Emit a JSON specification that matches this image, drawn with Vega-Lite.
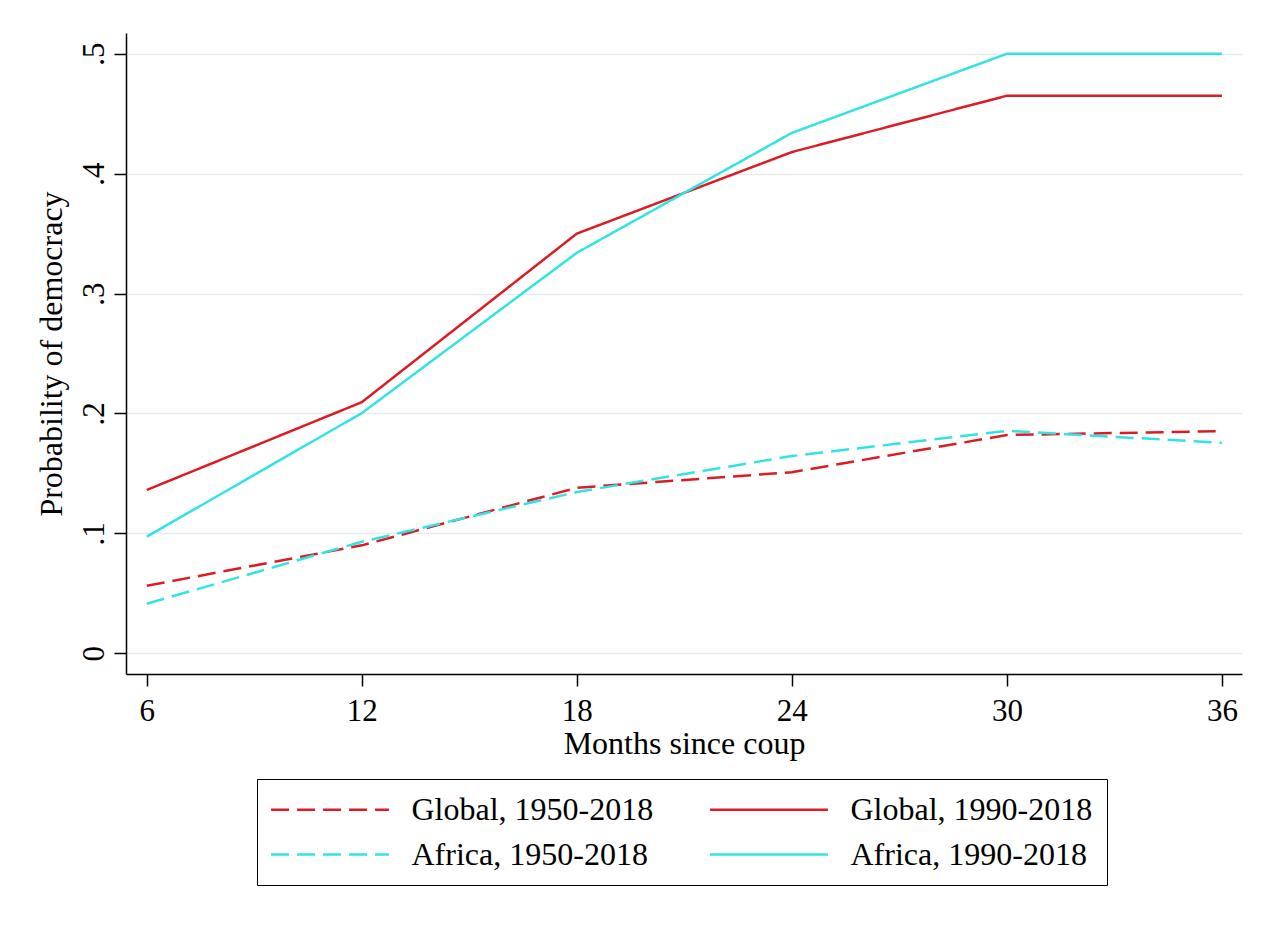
{
  "$schema": "https://vega.github.io/schema/vega-lite/v6.json",
  "width": 1116,
  "height": 641,
  "autosize": {"type": "none"},
  "padding": {"left": 126, "top": 33, "right": 34, "bottom": 254},
  "background": "white",
  "config": {"view": {"stroke": null}, "font": "Liberation Serif"},
  "data": {
    "values": [
      {"month": 6, "prob": 0.0563, "series": "Global, 1950-2018"},
      {"month": 12, "prob": 0.0900, "series": "Global, 1950-2018"},
      {"month": 18, "prob": 0.1380, "series": "Global, 1950-2018"},
      {"month": 24, "prob": 0.1510, "series": "Global, 1950-2018"},
      {"month": 30, "prob": 0.1820, "series": "Global, 1950-2018"},
      {"month": 36, "prob": 0.1853, "series": "Global, 1950-2018"},
      {"month": 6, "prob": 0.1362, "series": "Global, 1990-2018"},
      {"month": 12, "prob": 0.2094, "series": "Global, 1990-2018"},
      {"month": 18, "prob": 0.3500, "series": "Global, 1990-2018"},
      {"month": 24, "prob": 0.4180, "series": "Global, 1990-2018"},
      {"month": 30, "prob": 0.4650, "series": "Global, 1990-2018"},
      {"month": 36, "prob": 0.4650, "series": "Global, 1990-2018"},
      {"month": 6, "prob": 0.0413, "series": "Africa, 1950-2018"},
      {"month": 12, "prob": 0.0930, "series": "Africa, 1950-2018"},
      {"month": 18, "prob": 0.1345, "series": "Africa, 1950-2018"},
      {"month": 24, "prob": 0.1645, "series": "Africa, 1950-2018"},
      {"month": 30, "prob": 0.1855, "series": "Africa, 1950-2018"},
      {"month": 36, "prob": 0.1755, "series": "Africa, 1950-2018"},
      {"month": 6, "prob": 0.0973, "series": "Africa, 1990-2018"},
      {"month": 12, "prob": 0.2003, "series": "Africa, 1990-2018"},
      {"month": 18, "prob": 0.3340, "series": "Africa, 1990-2018"},
      {"month": 24, "prob": 0.4340, "series": "Africa, 1990-2018"},
      {"month": 30, "prob": 0.5000, "series": "Africa, 1990-2018"},
      {"month": 36, "prob": 0.5000, "series": "Africa, 1990-2018"}
    ]
  },
  "mark": {"type": "line", "strokeWidth": 2.5},
  "encoding": {
    "x": {
      "field": "month",
      "type": "quantitative",
      "scale": {"domain": [5.42, 36.56], "nice": false, "zero": false},
      "axis": {
        "values": [6, 12, 18, 24, 30, 36],
        "title": "Months since coup",
        "grid": false,
        "domainColor": "black",
        "domainWidth": 1.5,
        "tickColor": "black",
        "tickWidth": 1.5,
        "tickSize": 12,
        "labelFontSize": 31,
        "labelColor": "black",
        "labelPadding": 10,
        "titleFontSize": 32,
        "titleFontWeight": "normal",
        "titleColor": "black",
        "titlePadding": 2
      }
    },
    "y": {
      "field": "prob",
      "type": "quantitative",
      "scale": {"domain": [-0.0173, 0.5173], "nice": false, "zero": false},
      "axis": {
        "values": [0, 0.1, 0.2, 0.3, 0.4, 0.5],
        "labelExpr": "datum.value == 0 ? '0' : replace(format(datum.value, '.1f'), '0.', '.')",
        "title": "Probability of democracy",
        "grid": true,
        "gridColor": "#e4ecef",
        "gridWidth": 1.5,
        "domainColor": "black",
        "domainWidth": 1.5,
        "tickColor": "black",
        "tickWidth": 1.5,
        "tickSize": 12,
        "labelAngle": -90,
        "labelAlign": "center",
        "labelBaseline": "alphabetic",
        "labelFontSize": 31,
        "labelColor": "black",
        "labelPadding": 11,
        "titleFontSize": 32,
        "titleFontWeight": "normal",
        "titleColor": "black",
        "titlePadding": 10
      }
    },
    "color": {
      "field": "series",
      "type": "nominal",
      "scale": {
        "domain": ["Global, 1950-2018", "Global, 1990-2018", "Africa, 1950-2018", "Africa, 1990-2018"],
        "range": ["#dc1c24", "#dc1c24", "#33e3e3", "#33e3e3"]
      },
      "legend": {
        "orient": "none",
        "legendX": 131,
        "legendY": 746,
        "direction": "horizontal",
        "columns": 2,
        "title": null,
        "symbolType": "M-3.93,0H3.93",
        "symbolSize": 900,
        "symbolStrokeWidth": 2.5,
        "symbolOffset": 42.5,
        "labelOffset": 65,
        "labelFontSize": 32,
        "labelColor": "black",
        "labelLimit": 400,
        "columnPadding": 51,
        "rowPadding": 12,
        "padding": 14,
        "strokeColor": "black",
        "fillColor": "white"
      }
    },
    "strokeDash": {
      "field": "series",
      "type": "nominal",
      "scale": {
        "domain": ["Global, 1950-2018", "Global, 1990-2018", "Africa, 1950-2018", "Africa, 1990-2018"],
        "range": [[18, 8], [1, 0], [18, 8], [1, 0]]
      },
      "legend": {
        "orient": "none",
        "legendX": 131,
        "legendY": 746,
        "direction": "horizontal",
        "columns": 2,
        "title": null,
        "symbolType": "M-3.93,0H3.93",
        "symbolSize": 900,
        "symbolStrokeWidth": 2.5,
        "symbolOffset": 42.5,
        "labelOffset": 65,
        "labelFontSize": 32,
        "labelColor": "black",
        "labelLimit": 400,
        "columnPadding": 51,
        "rowPadding": 12,
        "padding": 14,
        "strokeColor": "black",
        "fillColor": "white"
      }
    }
  }
}
